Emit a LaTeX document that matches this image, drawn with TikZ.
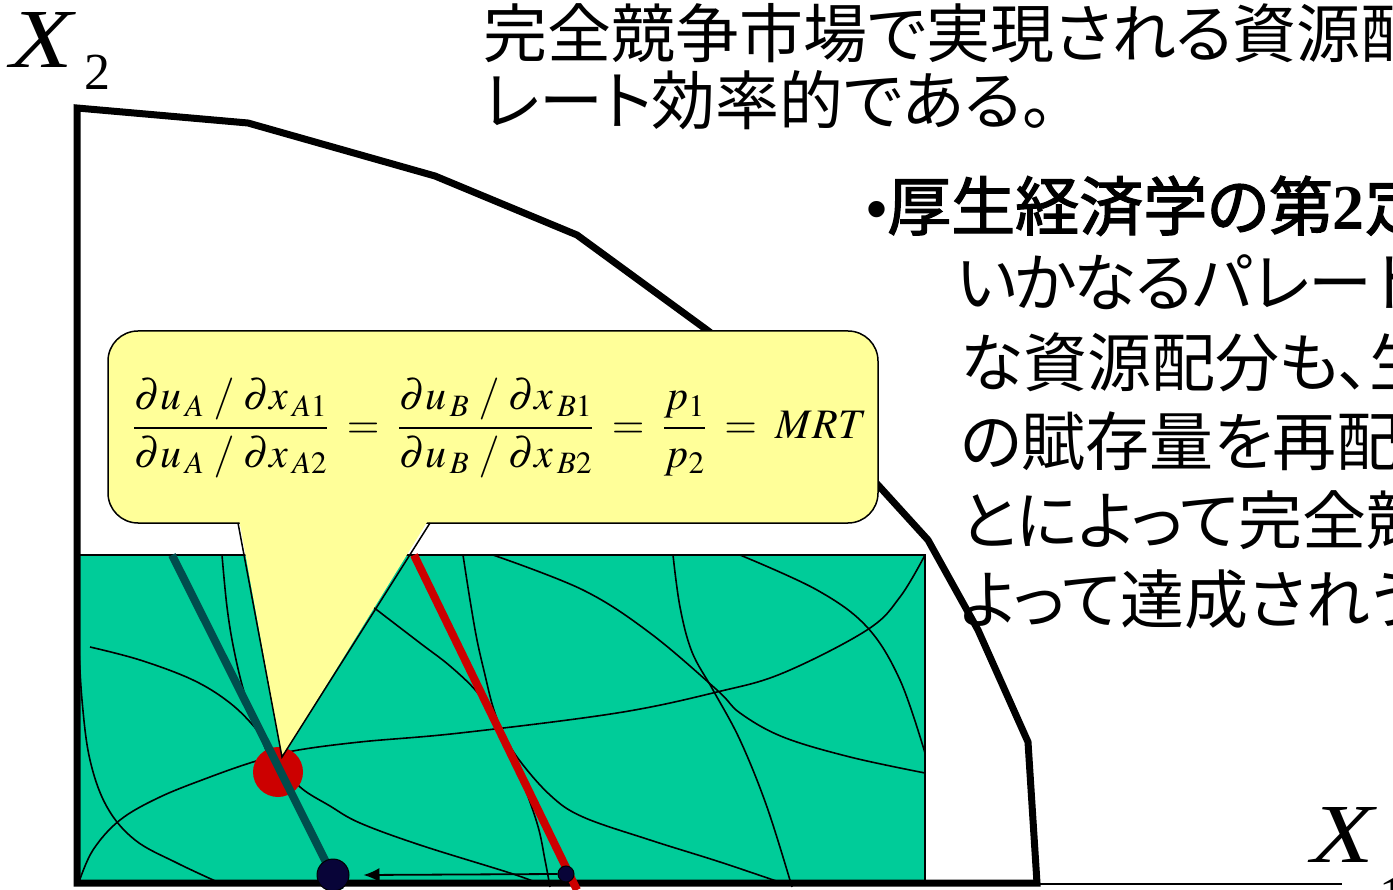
\documentclass[tikz,border=0pt]{standalone}
\usepackage{mathptmx}
\usepackage{fontspec}
\usetikzlibrary{arrows.meta}
\newfontfamily\jp{Noto Sans CJK JP}[AutoFakeBold=2, RawFeature=+palt]
\newfontfamily\tms{Liberation Serif}
\newfontfamily\tmsw{Liberation Serif}[FakeStretch=1.22]
\newfontfamily\ars{Liberation Sans}
\newcommand\kcell[1]{\makebox[59pt][c]{#1}}
\definecolor{boxgreen}{RGB}{0,204,153}
\definecolor{callfill}{RGB}{255,255,153}
\definecolor{tealline}{RGB}{0,77,77}
\definecolor{reddot}{RGB}{204,0,0}
\definecolor{navydot}{RGB}{8,4,56}
\begin{document}
\begin{tikzpicture}[x=1pt,y=-1pt,
  curve/.style={line width=1.6pt, black},
  frontier/.style={line width=7pt, black, line join=miter},
  jptext/.style={anchor=base west, inner sep=0pt, font={\jp\fontsize{64}{64}\selectfont}},
  lbl/.style={anchor=base west, inner sep=0pt},
  dotnavy/.style={circle, fill=navydot, draw=black, line width=1pt, inner sep=0pt}]
\useasboundingbox (0,0) rectangle (1393,890);
\clip (0,0) rectangle (1393,890);
\fill[white] (0,0) rectangle (1393,890);

% Edgeworth box
\draw[fill=boxgreen, line width=1.5pt] (77,555) rectangle (925,883);

% indifference curves
\draw[curve] plot[smooth, tension=0.6] coordinates {(78,630) (82,700) (90,760) (107,807) (135,840) (177,863) (222,884)};
\draw[curve] plot[smooth, tension=0.6] coordinates {(79,882) (93,850) (120,820) (160,797) (210,777) (253,762) (293,751) (360,742) (460,733) (617,713) (717,692) (783,673) (867,630) (900,597) (925,555)};
\draw[curve] plot[smooth, tension=0.6] coordinates {(90,647) (140,660) (193,680) (230,703) (257,730) (278,760) (300,787) (330,806) (360,823) (420,845) (510,873) (540,884)};
\draw[curve] plot[smooth, tension=0.6] coordinates {(222,555) (227,607) (234,650) (245,695) (262,740) (270,760)};
\draw[curve] plot[smooth, tension=0.6] coordinates {(345,585) (377,610) (420,643) (450,666) (477,692) (495,720) (517,757) (550,795) (583,817) (650,840) (720,862) (785,884)};
\draw[curve] plot[smooth, tension=0.6] coordinates {(463,555) (470,600) (477,640) (485,675) (493,707) (505,740) (517,767) (537,823) (545,860) (550,887)};
\draw[curve] plot[smooth, tension=0.6] coordinates {(493,555) (583,590) (650,633) (717,690) (740,713) (783,737) (850,757) (925,773)};
\draw[curve] plot[smooth, tension=0.6] coordinates {(673,555) (680,607) (692,652) (713,690) (740,740) (767,807) (792,887)};
\draw[curve] plot[smooth, tension=0.6] coordinates {(740,555) (817,590) (867,627) (900,680) (925,753)};

% production possibility frontier
\draw[frontier] (77,883) -- (77,108) -- (248,123) -- (435,176) -- (577,235) -- (707,330) -- (795,398) -- (878,485) -- (928,540) -- (978,630) -- (1028,742) -- (1037,883) -- cycle;
\draw[line width=2pt] (1037,884) -- (1342,884);

% tangency point and price lines
\fill[reddot] (278,772) circle[radius=25];
\coordinate (tA) at (172,555);
\coordinate (tB) at (340,890);
\draw[tealline, line width=8pt] (tA) -- (tB);
\coordinate (rA) at (414,555);
\coordinate (rB) at (577,890);
\draw[reddot, line width=8pt] (rA) -- (rB);
\node[dotnavy, minimum size=32pt] (big) at (333,875) {};
\node[dotnavy, minimum size=16pt] (small) at (566,874) {};
\draw[line width=1.8pt, -{Latex[length=16pt,width=14pt]}] (small.west) -- ([xshift=14pt]big.east);

% callout
\draw[fill=callfill, line width=1.5pt, rounded corners=30pt] (108,331) rectangle (878,523);
\fill[callfill] (239,519) -- (282,757) -- (429,519) -- cycle;
\draw[line width=1.5pt, line join=miter] (238,523) -- (282,757) -- (430,523);
\node (mrs) at (500,428) {\fontsize{42}{50}\selectfont $\displaystyle \frac{\partial u_{\,A}\;/\;\partial x_{\,A1}}{\partial u_{\,A}\;/\;\partial x_{\,A2}} \;=\; \frac{\partial u_{\,B}\;/\;\partial x_{\,B1}}{\partial u_{\,B}\;/\;\partial x_{\,B2}} \;=\; \frac{p_{1}}{p_{2}} \;=\; M R T$};

% axis labels
\node[lbl, font={\tmsw\itshape\fontsize{84}{84}\selectfont}] (x2) at (10,68) {X};
\node[lbl, font={\tms\fontsize{52}{52}\selectfont}] (x2s) at (84,90) {2};
\node[lbl, font={\tmsw\itshape\fontsize{84}{84}\selectfont}] (x1) at (1311,862) {X};
\node[lbl, font={\tms\fontsize{52}{52}\selectfont}] (x1s) at (1379,912) {1};

% texts
\node[jptext] (t1) at (483,58) {完全競争市場で実現される資源配};
\node[jptext] (t2) at (483,125) {レート効率的である。};
\node[jptext] (r0) at (866,230) {{\ars\fontsize{60}{60}\selectfont •}\bfseries 厚生経済学の第{\tms\bfseries 2}定};
\node[jptext] (r1) at (957,307) {\kcell{い}\kcell{か}\kcell{な}\kcell{る}\kcell{パ}\kcell{レ}\kcell{ー}\kcell{ト}};
\node[jptext] (r2) at (960,387) {な資源配分も、生};
\node[jptext] (r3) at (960,466) {の賦存量を再配};
\node[jptext] (r4) at (960,544) {とによって完全競};
\node[jptext] (r5) at (960,623) {よって達成されう};
\end{tikzpicture}
\end{document}
